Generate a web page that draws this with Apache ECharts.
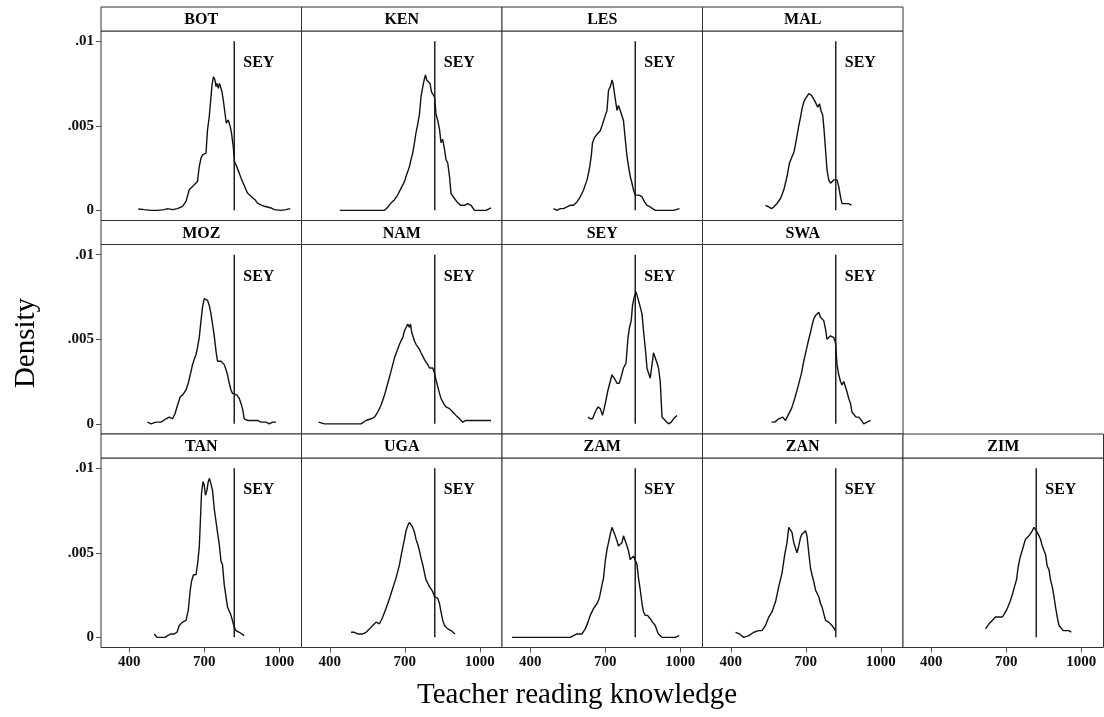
<!DOCTYPE html>
<html><head><meta charset="utf-8">
<script src="https://cdn.jsdelivr.net/npm/echarts@6/dist/echarts.min.js"></script>
<style>html,body{margin:0;padding:0;background:#fff}#c{width:1104px;height:717px}</style>
</head><body><div id="c"></div>
<script>
// ---------- DATA ----------
const panelNames = ['BOT','KEN','LES','MAL','MOZ','NAM','SEY','SWA','TAN','UGA','ZAM','ZAN','ZIM'];
const SEY_MEAN = 820;
const SEY_LABEL_Y = 0.0087;
const xTicks = [400, 700, 1000];
const yTicks = [0, 0.005, 0.01];
const xTitle = 'Teacher reading knowledge';
const yTitle = 'Density';

const BOT = [[436,0.00008],[460,0.00004],[487,0],[513,0],[540,0.00004],[553,0.0001],[573,0.00004],[593,0.0001],[613,0.00024],[627,0.00053],[640,0.00122],[653,0.00141],[660,0.00138],[673,0.00171],[680,0.00259],[687,0.00308],[693,0.00328],[700,0.00318],[707,0.00338],[713,0.00475],[720,0.00554],[727,0.00672],[731,0.00741],[737,0.0079],[743,0.0077],[747,0.00731],[751,0.0075],[756,0.00721],[761,0.0075],[767,0.00741],[771,0.00701],[777,0.00642],[783,0.00574],[788,0.00515],[796,0.00534],[804,0.00495],[809,0.00456],[816,0.00377],[821,0.00289],[827,0.00269],[833,0.00259],[840,0.0022],[847,0.00191],[853,0.00171],[860,0.00161],[867,0.00122],[873,0.00102],[880,0.00092],[887,0.00083],[893,0.00073],[903,0.00063],[913,0.00043],[927,0.00033],[940,0.00024],[953,0.0002],[967,0.00014],[980,0.00004],[1007,0],[1027,0.00004],[1044,0.0001]];
const KEN = [[440,0],[485,0],[552,0],[619,0],[629,0.00014],[645,0.00043],[659,0.00063],[672,0.00092],[685,0.0013],[692,0.0015],[699,0.0017],[705,0.002],[712,0.0023],[719,0.0026],[725,0.003],[732,0.0034],[739,0.004],[745,0.0046],[752,0.0051],[759,0.0057],[765,0.0067],[772,0.0073],[779,0.0078],[783,0.008],[788,0.0077],[795,0.0078],[801,0.0075],[807,0.007],[812,0.0071],[819,0.0067],[825,0.0057],[832,0.0053],[839,0.0048],[845,0.004],[852,0.0042],[859,0.0036],[865,0.003],[872,0.0028],[879,0.002],[885,0.001],[892,0.0009],[899,0.0007],[909,0.0005],[923,0.0003],[939,0.0003],[952,0.0004],[965,0.0003],[979,0],[1005,0],[1025,0],[1045,0.00014]];
const LES = [[493,0.0001],[507,0],[520,0.0001],[533,0.0001],[547,0.0002],[560,0.0003],[573,0.0003],[587,0.0005],[600,0.0008],[613,0.0012],[627,0.0018],[636,0.0024],[644,0.0032],[649,0.004],[657,0.0043],[667,0.0045],[673,0.0046],[680,0.0047],[687,0.005],[693,0.0051],[700,0.0056],[707,0.0059],[713,0.0071],[720,0.0073],[727,0.0077],[731,0.0075],[736,0.007],[740,0.0069],[747,0.0059],[753,0.0062],[760,0.0059],[767,0.006],[773,0.0053],[780,0.0042],[787,0.0032],[793,0.0026],[800,0.002],[807,0.0016],[813,0.0012],[820,0.0009],[827,0.0008],[836,0.0009],[847,0.0008],[857,0.0005],[867,0.0003],[880,0.0002],[900,0],[927,0],[953,0],[973,0],[997,0.0001]];
const MAL = [[539,0.0003],[552,0.0002],[563,0.0001],[572,0.0002],[585,0.0004],[599,0.0007],[612,0.0012],[625,0.002],[635,0.0028],[643,0.0031],[652,0.0034],[659,0.0039],[665,0.0044],[672,0.005],[679,0.0055],[685,0.006],[692,0.0064],[699,0.0066],[705,0.0067],[712,0.0069],[719,0.007],[723,0.0068],[728,0.0069],[735,0.0065],[741,0.0066],[748,0.0061],[755,0.0063],[761,0.0059],[768,0.0056],[773,0.0048],[779,0.0036],[785,0.0024],[792,0.0018],[799,0.0016],[805,0.0017],[812,0.0018],[819,0.0019],[825,0.0018],[832,0.0014],[839,0.0008],[845,0.0004],[859,0.0004],[872,0.0004],[883,0.0003]];
const MOZ = [[473,0.0001],[487,0],[507,0.0001],[527,0.0001],[547,0.0003],[560,0.0004],[573,0.0003],[583,0.0006],[593,0.0011],[604,0.0016],[613,0.0017],[627,0.002],[636,0.0024],[644,0.0029],[653,0.0035],[660,0.0038],[667,0.0041],[673,0.0045],[680,0.0051],[687,0.0061],[693,0.0069],[700,0.0074],[707,0.0075],[713,0.0073],[720,0.007],[727,0.0065],[733,0.0059],[740,0.0052],[747,0.0043],[753,0.0037],[760,0.0036],[767,0.0037],[773,0.0038],[780,0.0035],[787,0.0032],[793,0.0029],[800,0.0024],[807,0.002],[813,0.0018],[820,0.0017],[831,0.0017],[840,0.0015],[847,0.0012],[853,0.0009],[860,0.0003],[873,0.0002],[887,0.0002],[900,0.0002],[913,0.0002],[927,0.0001],[947,0.0001],[960,0],[973,0.0001],[987,0.0001]];
const NAM = [[355,0.0001],[379,0],[419,0],[459,0],[499,0],[525,0],[545,0.0002],[565,0.0003],[579,0.0004],[592,0.0007],[605,0.0011],[619,0.0017],[632,0.0024],[645,0.0031],[659,0.0039],[669,0.0043],[679,0.0047],[685,0.0049],[692,0.0051],[699,0.0055],[705,0.0054],[712,0.0059],[719,0.0057],[723,0.0059],[728,0.0054],[732,0.0055],[739,0.0049],[745,0.0047],[752,0.0046],[759,0.0044],[765,0.0042],[772,0.004],[779,0.0038],[785,0.0037],[792,0.0035],[799,0.0033],[805,0.0034],[812,0.0033],[819,0.003],[825,0.0026],[832,0.0022],[839,0.0018],[845,0.0015],[856,0.0012],[865,0.001],[879,0.0009],[892,0.0007],[905,0.0005],[919,0.0003],[932,0.0001],[945,0.0002],[965,0.0002],[985,0.0002],[1005,0.0002],[1025,0.0002],[1045,0.0002]];
const SEY = [[631,0.0004],[640,0.0003],[649,0.0003],[660,0.0007],[671,0.001],[680,0.0009],[689,0.0005],[700,0.0012],[711,0.002],[720,0.0025],[727,0.0029],[733,0.0028],[740,0.0026],[747,0.0024],[756,0.0024],[764,0.0028],[773,0.0033],[783,0.0036],[791,0.0051],[797,0.0057],[804,0.0061],[809,0.007],[816,0.0075],[823,0.0078],[828,0.0077],[833,0.0073],[840,0.0073],[847,0.0065],[853,0.0055],[860,0.0045],[867,0.0033],[873,0.003],[880,0.0027],[887,0.0035],[893,0.0042],[900,0.0042],[907,0.0036],[913,0.0033],[920,0.0025],[927,0.0004],[940,0.0002],[953,0],[964,0.0001],[973,0.0003],[987,0.0005]];
const SWA = [[563,0.0001],[576,0.0001],[592,0.0003],[608,0.0004],[619,0.0002],[629,0.0005],[643,0.0009],[656,0.0015],[669,0.0022],[683,0.003],[692,0.0037],[701,0.0043],[712,0.005],[719,0.0054],[725,0.0058],[732,0.0062],[739,0.0064],[745,0.0063],[752,0.0066],[759,0.0063],[765,0.0064],[772,0.0061],[779,0.0056],[785,0.005],[792,0.0049],[799,0.0052],[805,0.0051],[812,0.0051],[819,0.0048],[825,0.0035],[832,0.0029],[839,0.0025],[845,0.0023],[852,0.0025],[859,0.0024],[865,0.0019],[872,0.0015],[879,0.0012],[885,0.0007],[892,0.0006],[901,0.0004],[912,0.0004],[923,0.0002],[932,0],[945,0.0001],[959,0.0002]];
const TAN = [[500,0.0002],[511,0],[527,0],[543,0],[553,0.0001],[567,0.0002],[580,0.0002],[591,0.0003],[600,0.0007],[613,0.0009],[627,0.001],[636,0.0016],[644,0.0028],[649,0.0033],[657,0.0037],[667,0.0037],[673,0.0043],[680,0.0053],[684,0.0067],[689,0.0085],[695,0.0092],[700,0.009],[705,0.0084],[711,0.0087],[716,0.0092],[721,0.0094],[727,0.0093],[733,0.0087],[740,0.0076],[747,0.0075],[753,0.0062],[760,0.0055],[767,0.0045],[773,0.0043],[780,0.0031],[787,0.003],[793,0.0018],[800,0.0017],[807,0.0013],[813,0.0012],[820,0.0006],[827,0.0004],[840,0.0003],[860,0.0001]];
const UGA = [[485,0.0003],[499,0.0003],[512,0.0002],[532,0.0002],[545,0.0003],[559,0.0005],[572,0.0007],[585,0.0009],[599,0.0008],[612,0.0012],[625,0.0017],[639,0.0023],[652,0.0029],[665,0.0035],[672,0.0039],[679,0.0043],[685,0.0048],[692,0.0053],[699,0.0058],[705,0.0063],[712,0.0066],[719,0.0068],[725,0.0068],[732,0.0065],[739,0.0062],[745,0.0058],[752,0.0055],[759,0.0051],[765,0.0047],[772,0.0043],[779,0.0038],[785,0.0034],[792,0.0032],[799,0.003],[805,0.0029],[812,0.0027],[819,0.0024],[825,0.0023],[832,0.0023],[839,0.002],[845,0.0015],[852,0.001],[859,0.0007],[872,0.0005],[885,0.0004],[901,0.0002]];
const ZAM = [[327,0],[367,0],[420,0],[473,0],[527,0],[560,0],[573,0.0001],[587,0.0002],[607,0.0002],[620,0.0005],[631,0.0009],[640,0.0013],[653,0.0017],[667,0.002],[676,0.0023],[687,0.0031],[693,0.0035],[700,0.0045],[707,0.0052],[713,0.0056],[720,0.0061],[727,0.0065],[733,0.0065],[740,0.006],[747,0.0057],[753,0.0054],[760,0.0054],[767,0.0056],[773,0.006],[780,0.0059],[787,0.0054],[793,0.0051],[800,0.0046],[807,0.0045],[813,0.0048],[820,0.0047],[827,0.0043],[833,0.0035],[840,0.0028],[847,0.002],[853,0.0015],[860,0.0013],[869,0.0013],[880,0.0011],[889,0.0009],[900,0.0007],[907,0.0004],[913,0.0002],[927,0],[953,0],[980,0],[996,0.0001]];
const ZAN = [[419,0.0003],[435,0.0002],[452,0],[472,0.0001],[492,0.0003],[512,0.0004],[525,0.0004],[539,0.0007],[552,0.0012],[565,0.0015],[579,0.0021],[592,0.003],[605,0.0038],[616,0.0049],[625,0.0056],[632,0.0065],[639,0.0064],[645,0.0062],[652,0.0056],[659,0.0057],[665,0.005],[672,0.0054],[679,0.0059],[685,0.0061],[692,0.0062],[699,0.0063],[705,0.006],[712,0.005],[719,0.0041],[725,0.0037],[732,0.0033],[739,0.0028],[745,0.0027],[752,0.0024],[759,0.002],[765,0.0018],[772,0.0014],[779,0.001],[792,0.0009],[805,0.0007],[819,0.0004]];
const ZIM = [[617,0.0005],[631,0.0008],[644,0.001],[657,0.0012],[671,0.0012],[684,0.0012],[693,0.0014],[704,0.0017],[715,0.0021],[724,0.0025],[733,0.003],[741,0.0034],[748,0.0042],[755,0.0047],[761,0.005],[767,0.0049],[771,0.0055],[777,0.0058],[784,0.0059],[791,0.006],[797,0.0059],[804,0.0063],[811,0.0065],[817,0.0066],[824,0.0062],[831,0.006],[837,0.0058],[844,0.0054],[851,0.0053],[857,0.0049],[864,0.0042],[871,0.004],[877,0.0034],[884,0.003],[891,0.0024],[897,0.0018],[904,0.0012],[911,0.0007],[917,0.0006],[928,0.0004],[941,0.0004],[951,0.0004],[960,0.0003]];

const panelData = {BOT,KEN,LES,MAL,MOZ,NAM,SEY,SWA,TAN,UGA,ZAM,ZAN,ZIM};
// panel placement: rows of 4,4,5
const panelRows = [['BOT','KEN','LES','MAL'],['MOZ','NAM','SEY','SWA'],['TAN','UGA','ZAM','ZAN','ZIM']];

// ---------- LAYOUT ----------
const L = {left:101, colW:200.5, top:7, rowH:213.5, headH:24, plotH:189.5,
           xMin:287, xMax:1089, yMin:-0.0006, yMax:0.0106};
const FONT = '"Liberation Serif", "Times New Roman", serif';
const INK = '#111';

const grids=[], xAxes=[], yAxes=[], series=[], graphics=[];
let gi = 0;
panelRows.forEach((row, r) => {
  row.forEach((name, c) => {
    const left = L.left + c*L.colW;
    const headTop = L.top + r*L.rowH;
    const plotTop = headTop + L.headH;
    grids.push({left:left, top:plotTop, width:L.colW, height:L.plotH,
      show:true, borderColor:'#333', borderWidth:1, backgroundColor:'#fff'});
    const bottomRow = (r === panelRows.length-1);
    const leftCol = (c === 0);
    xAxes.push({type:'value', gridIndex:gi, min:L.xMin, max:L.xMax, position:'bottom',
      splitLine:{show:false}, axisLine:{show:false, onZero:false},
      axisTick:{show:bottomRow, inside:false, customValues:xTicks, length:5, lineStyle:{color:'#555', width:1}},
      axisLabel:{show:bottomRow, customValues:xTicks, margin:7,
        formatter: v => String(v),
        fontFamily:FONT, fontWeight:'bold', fontSize:15, color:INK}});
    yAxes.push({type:'value', gridIndex:gi, min:L.yMin, max:L.yMax, position:'left',
      splitLine:{show:false}, axisLine:{show:false, onZero:false},
      axisTick:{show:leftCol, inside:false, customValues:yTicks, length:5, lineStyle:{color:'#555', width:1}},
      axisLabel:{show:leftCol, customValues:yTicks, margin:7,
        formatter: v => v===0 ? '0' : String(v).replace(/^0/,''),
        fontFamily:FONT, fontWeight:'bold', fontSize:15, color:INK}});
    // density curve
    series.push({type:'line', xAxisIndex:gi, yAxisIndex:gi, data:panelData[name],
      showSymbol:false, symbol:'none', smooth:false, silent:true,
      lineStyle:{color:INK, width:1.4}, z:3});
    // SEY reference line
    series.push({type:'line', xAxisIndex:gi, yAxisIndex:gi,
      data:[[SEY_MEAN,0],[SEY_MEAN,yTicks[2]]], showSymbol:false, symbol:'none', silent:true,
      lineStyle:{color:'#222', width:1.5}, z:2});
    // SEY label
    series.push({type:'scatter', xAxisIndex:gi, yAxisIndex:gi,
      data:[[SEY_MEAN, SEY_LABEL_Y]], symbolSize:0, silent:true,
      itemStyle:{opacity:1},
      label:{show:true, position:'right', distance:9, formatter:'SEY', opacity:1,
        fontFamily:FONT, fontWeight:'bold', fontSize:16, color:'#000'}});
    // header strip
    graphics.push({type:'rect', shape:{x:left, y:headTop, width:L.colW, height:L.headH},
      style:{fill:'#fff', stroke:'#333', lineWidth:1}, z:10});
    graphics.push({type:'text', x:left + L.colW/2, y:headTop + L.headH/2 + 1,
      style:{text:name, fontFamily:FONT, fontWeight:'bold', fontSize:16, fill:'#000',
        align:'center', verticalAlign:'middle'}, z:11});
    gi++;
  });
});
// axis titles
graphics.push({type:'text', x:577, y:695, style:{text:xTitle, fontFamily:FONT, fontSize:29,
  fill:'#000', align:'center', verticalAlign:'middle'}});
graphics.push({type:'text', x:26, y:343, rotation:Math.PI/2, style:{text:yTitle, fontFamily:FONT,
  fontSize:29, fill:'#000', align:'center', verticalAlign:'middle'}});

const chart = echarts.init(document.getElementById('c'), null, {renderer:'canvas'});
chart.setOption({animation:false, backgroundColor:'#fff', grid:grids, xAxis:xAxes, yAxis:yAxes,
  series:series, graphic:graphics});
</script></body></html>
